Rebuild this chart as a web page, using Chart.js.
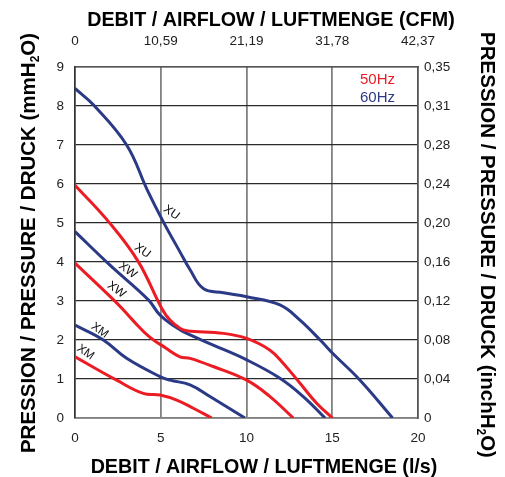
<!DOCTYPE html>
<html>
<head>
<meta charset="utf-8">
<script src="https://cdn.jsdelivr.net/npm/chart.js@4"></script>
<style>
  html, body { margin: 0; padding: 0; background: #fff; }
  #wrap { width: 505px; height: 477px; }
</style>
</head>
<body>
<div id="wrap"><canvas id="chart"></canvas></div>
<script>
// airflow in l/s, pressure in mmH2O
const xu60Flow = [0, 1.07, 3.01, 4.21, 5.15, 6.12, 6.71, 7.48, 8.65, 10.01, 11.95, 13.12, 14.38, 15.02, 16.62, 18.52];
const xu60Press = [8.45, 8.03, 7.0, 5.85, 5.03, 4.26, 3.8, 3.32, 3.21, 3.11, 2.9, 2.51, 1.96, 1.66, 0.97, 0];
const xu50Flow = [0, 2.04, 3.69, 5.06, 5.54, 6.12, 6.51, 8.65, 10.01, 11.37, 12.15, 13.12, 14.09, 15.01];
const xu50Press = [5.97, 4.99, 4.01, 2.81, 2.51, 2.3, 2.24, 2.17, 2.04, 1.74, 1.4, 0.89, 0.38, 0];
const xw60Flow = [0, 2.04, 4.28, 4.96, 6.12, 6.71, 8.06, 10.01, 11.95, 13.31, 14.58];
const xw60Press = [4.78, 3.92, 3.03, 2.64, 2.26, 2.13, 1.87, 1.49, 1.02, 0.55, 0];
const xw50Flow = [0, 2.5, 3.36, 4.34, 5.31, 6.12, 6.71, 8.06, 10.01, 11.37, 12.73];
const xw50Press = [3.97, 2.92, 2.51, 2.08, 1.79, 1.57, 1.53, 1.32, 0.97, 0.55, 0];
const xm60Flow = [0, 1.65, 3.01, 4.96, 5.54, 6.71, 7.87, 9.91];
const xm60Press = [2.38, 2.0, 1.53, 1.06, 0.97, 0.85, 0.55, 0];
const xm50Flow = [0, 2.43, 3.98, 4.96, 5.93, 6.9, 7.97];
const xm50Press = [1.57, 0.97, 0.63, 0.59, 0.46, 0.25, 0];

const cfmTicks = ["0", "10,59", "21,19", "31,78", "42,37"];
const inchTicks = ["0", "0,04", "0,08", "0,12", "0,16", "0,20", "0,24", "0,28", "0,31", "0,35"];

const curveNames = ["XU", "XU", "XW", "XW", "XM", "XM"];
const curveLabelX = [5.65, 3.96, 3.1, 2.45, 1.46, 0.64];
const curveLabelY = [5.28, 4.3, 3.8, 3.3, 2.26, 1.7];

const RED = "#ec1c24";
const BLUE = "#2b3a86";
const FONT = "'Liberation Sans', Arial, sans-serif";

const pts = (xs, ys) => xs.map((x, i) => ({ x, y: ys[i] }));
const line = (xs, ys, color) => ({
  data: pts(xs, ys),
  borderColor: color,
  borderWidth: 3,
  pointRadius: 0,
  tension: 0.4,
  fill: false
});

function drawParts(ctx, parts, font, subFont) {
  let total = 0;
  parts.forEach(p => {
    ctx.font = p[1] ? subFont : font;
    total += ctx.measureText(p[0]).width;
  });
  let x = -total / 2;
  parts.forEach(p => {
    ctx.font = p[1] ? subFont : font;
    ctx.fillText(p[0], x, p[1] ? 4 : 0);
    x += ctx.measureText(p[0]).width;
  });
}

const extras = {
  id: "extras",
  afterDatasetsDraw(chart) {
    const ctx = chart.ctx;
    const sx = chart.scales.x, sy = chart.scales.y;
    ctx.save();
    ctx.fillStyle = "#111";
    ctx.textBaseline = "alphabetic";

    // curve names
    ctx.font = "12px " + FONT;
    ctx.textAlign = "center";
    curveNames.forEach((t, i) => {
      ctx.save();
      ctx.translate(sx.getPixelForValue(curveLabelX[i]), sy.getPixelForValue(curveLabelY[i]));
      ctx.rotate(36 * Math.PI / 180);
      ctx.fillText(t, 0, 4);
      ctx.restore();
    });

    // legend
    ctx.font = "15px " + FONT;
    ctx.textAlign = "right";
    ctx.fillStyle = RED;
    ctx.fillText("50Hz", 395, 84);
    ctx.fillStyle = BLUE;
    ctx.fillText("60Hz", 395, 102);

    // titles
    ctx.fillStyle = "#000";
    ctx.textAlign = "left";
    const big = "bold 19.7px " + FONT;
    const sub = "bold 12px " + FONT;
    ctx.save();
    ctx.translate(271, 26);
    drawParts(ctx, [["DEBIT / AIRFLOW / LUFTMENGE (CFM)", 0]], big, sub);
    ctx.restore();
    ctx.save();
    ctx.translate(264, 473);
    drawParts(ctx, [["DEBIT / AIRFLOW / LUFTMENGE (l/s)", 0]], big, sub);
    ctx.restore();
    ctx.save();
    ctx.translate(35, 243);
    ctx.rotate(-Math.PI / 2);
    drawParts(ctx, [["PRESSION / PRESSURE / DRUCK (mmH", 0], ["2", 1], ["O)", 0]], "bold 20.5px " + FONT, sub);
    ctx.restore();
    ctx.save();
    ctx.translate(481, 245);
    ctx.rotate(Math.PI / 2);
    drawParts(ctx, [["PRESSION / PRESSURE / DRUCK (inchH", 0], ["2", 1], ["O)", 0]], "bold 20.5px " + FONT, sub);
    ctx.restore();
    ctx.restore();
  }
};

const tickFont = { family: FONT, size: 13.5 };

new Chart(document.getElementById("chart"), {
  type: "line",
  data: {
    datasets: [
      line(xu60Flow, xu60Press, BLUE),
      line(xu50Flow, xu50Press, RED),
      line(xw60Flow, xw60Press, BLUE),
      line(xw50Flow, xw50Press, RED),
      line(xm60Flow, xm60Press, BLUE),
      line(xm50Flow, xm50Press, RED)
    ]
  },
  options: {
    responsive: true,
    maintainAspectRatio: false,
    animation: false,
    layout: { padding: 0 },
    plugins: { legend: { display: false }, tooltip: { enabled: false } },
    scales: {
      x: {
        type: "linear", position: "bottom", min: 0, max: 20,
        afterFit: s => { s.height = 59; },
        ticks: { stepSize: 5, padding: 12, color: "#222", font: tickFont, maxRotation: 0 },
        grid: { color: "#808080", lineWidth: 1.8, drawTicks: false },
        border: { color: "#808080", width: 1.8 }
      },
      x2: {
        type: "linear", position: "top", min: 0, max: 20,
        afterFit: s => { s.height = 67; },
        ticks: { stepSize: 5, padding: 18, color: "#222", font: tickFont, maxRotation: 0,
          callback: (v, i) => cfmTicks[i] },
        grid: { display: false, drawTicks: false },
        border: { color: "#555", width: 1.5 }
      },
      y: {
        type: "linear", position: "left", min: 0, max: 9,
        afterFit: s => { s.width = 75; },
        ticks: { stepSize: 1, padding: 11, color: "#222", font: tickFont },
        grid: { color: "#2a2a2a", lineWidth: 1.3, drawTicks: false },
        border: { color: "#333", width: 1.5 }
      },
      y2: {
        type: "linear", position: "right", min: 0, max: 9,
        afterFit: s => { s.width = 87; },
        ticks: { stepSize: 1, padding: 6, color: "#222", font: tickFont,
          callback: (v, i) => inchTicks[i] },
        grid: { display: false, drawTicks: false },
        border: { color: "#555", width: 1.5 }
      }
    }
  },
  plugins: [extras]
});
</script>
</body>
</html>
